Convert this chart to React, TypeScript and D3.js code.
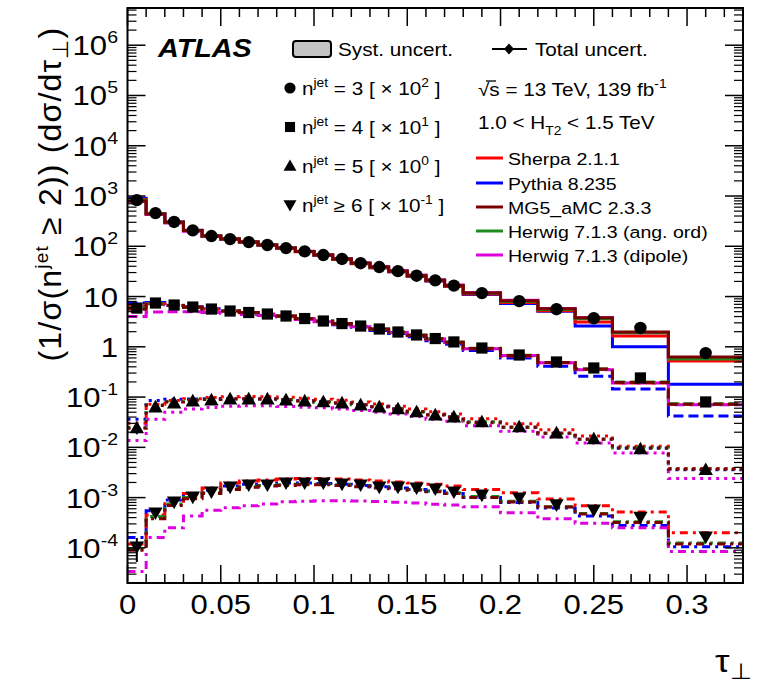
import React from 'react';
import * as d3 from 'd3';

// ---------------- DATA ----------------
const binEdges = [0, 0.01, 0.02, 0.03, 0.04, 0.05, 0.06, 0.07, 0.08, 0.09, 0.1, 0.11, 0.12, 0.13, 0.14, 0.15, 0.16, 0.17, 0.18, 0.2, 0.22, 0.24, 0.26, 0.29, 0.33];

// n_jet = 3 (x 10^2)
const data3 = [828, 457, 305, 207, 160, 139, 121, 106, 92, 79, 67, 56, 46, 38.6, 32, 26, 21, 16.5, 11.7, 8.1, 5.6, 3.7, 2.37, 0.75];
const sherpa3 = [850, 440, 300, 205, 160, 139, 121, 105, 91, 78, 66, 55, 45, 37.5, 31, 25.5, 20.5, 16, 11.2, 7.6, 5.2, 3.1, 1.64, 0.52];
const pythia3 = [900, 450, 305, 208, 161, 140, 122, 106, 92, 79, 66.5, 55.5, 45.5, 37.5, 31, 25.3, 20.3, 15.8, 11.0, 7.3, 5.1, 2.6, 1.0, 0.18];
const mg53 = [800, 440, 300, 205, 160, 139, 121, 106, 92, 79, 67, 56, 46, 38.6, 32, 26, 21, 16.5, 11.8, 8.2, 5.7, 3.8, 1.97, 0.63];
const hwAng3 = [820, 450, 302, 206, 160, 139, 121, 106, 92, 79, 67, 56, 46, 38.4, 31.8, 26, 21, 16.4, 11.6, 8.0, 5.5, 3.6, 1.9, 0.57];
const hwDip3 = [780, 430, 290, 200, 157, 138, 121, 106, 93, 80, 68, 57, 47, 39.5, 32.8, 26.8, 21.6, 17, 12.1, 8.4, 5.8, 3.8, 1.9, 0.6];
const err3 = [0.06, 0.04, 0.03, 0.03, 0.03, 0.03, 0.03, 0.03, 0.03, 0.03, 0.03, 0.03, 0.03, 0.03, 0.03, 0.03, 0.04, 0.04, 0.04, 0.05, 0.06, 0.07, 0.08, 0.12];

// n_jet = 4 (x 10^1)
const data4 = [5.9, 7.43, 6.78, 6.18, 5.64, 5.15, 4.81, 4.49, 4.1, 3.65, 3.26, 2.9, 2.59, 2.26, 1.97, 1.72, 1.46, 1.25, 0.946, 0.687, 0.499, 0.379, 0.24, 0.08];
const sherpa4 = [6.5, 7.2, 6.6, 6.1, 5.6, 5.1, 4.78, 4.45, 4.05, 3.6, 3.2, 2.85, 2.55, 2.22, 1.93, 1.68, 1.42, 1.21, 0.92, 0.66, 0.48, 0.355, 0.19, 0.072];
const pythia4 = [7.4, 7.6, 6.9, 6.3, 5.7, 5.2, 4.8, 4.45, 4.0, 3.55, 3.15, 2.75, 2.45, 2.12, 1.83, 1.58, 1.32, 1.12, 0.84, 0.6, 0.41, 0.26, 0.145, 0.042];
const mg54 = [5.6, 7.0, 6.6, 6.1, 5.6, 5.15, 4.8, 4.5, 4.1, 3.65, 3.25, 2.9, 2.58, 2.25, 1.95, 1.7, 1.44, 1.23, 0.93, 0.67, 0.49, 0.36, 0.195, 0.072];
const hwAng4 = [6.0, 7.2, 6.7, 6.1, 5.6, 5.15, 4.8, 4.5, 4.1, 3.65, 3.27, 2.92, 2.6, 2.27, 1.98, 1.72, 1.46, 1.24, 0.94, 0.68, 0.49, 0.36, 0.2, 0.074];
const hwDip4 = [4.0, 4.9, 5.0, 5.0, 4.8, 4.6, 4.4, 4.2, 3.9, 3.5, 3.15, 2.82, 2.52, 2.2, 1.92, 1.68, 1.43, 1.22, 0.92, 0.67, 0.48, 0.35, 0.19, 0.07];
const err4 = [0.1, 0.05, 0.04, 0.04, 0.04, 0.04, 0.04, 0.04, 0.04, 0.04, 0.04, 0.04, 0.04, 0.04, 0.04, 0.04, 0.05, 0.05, 0.05, 0.06, 0.07, 0.08, 0.1, 0.15];

// n_jet = 5 (x 10^0)
const data5 = [0.0243, 0.0635, 0.0763, 0.0836, 0.0875, 0.0916, 0.0916, 0.0916, 0.0875, 0.0836, 0.08, 0.0763, 0.0696, 0.0635, 0.058, 0.0506, 0.044, 0.04, 0.032, 0.0255, 0.0193, 0.0147, 0.0093, 0.0036];
const sherpa5 = [0.03, 0.072, 0.085, 0.093, 0.098, 0.102, 0.103, 0.102, 0.099, 0.095, 0.091, 0.086, 0.08, 0.073, 0.066, 0.058, 0.051, 0.046, 0.037, 0.0295, 0.0225, 0.0168, 0.0105, 0.0038];
const pythia5 = [0.036, 0.085, 0.09, 0.092, 0.093, 0.094, 0.093, 0.092, 0.089, 0.085, 0.08, 0.076, 0.07, 0.064, 0.058, 0.051, 0.045, 0.04, 0.032, 0.025, 0.019, 0.0145, 0.0096, 0.0036];
const mg55 = [0.024, 0.068, 0.08, 0.086, 0.089, 0.092, 0.092, 0.092, 0.088, 0.084, 0.08, 0.076, 0.07, 0.064, 0.058, 0.051, 0.044, 0.04, 0.031, 0.025, 0.019, 0.0145, 0.0098, 0.0037];
const hwAng5 = [0.025, 0.07, 0.082, 0.087, 0.09, 0.092, 0.092, 0.092, 0.088, 0.084, 0.08, 0.076, 0.07, 0.064, 0.058, 0.051, 0.044, 0.04, 0.032, 0.025, 0.019, 0.0145, 0.0098, 0.0037];
const hwDip5 = [0.0137, 0.036, 0.05, 0.058, 0.062, 0.066, 0.067, 0.067, 0.065, 0.063, 0.061, 0.058, 0.054, 0.05, 0.046, 0.041, 0.036, 0.033, 0.027, 0.021, 0.016, 0.0122, 0.0077, 0.0024];
const err5 = [0.25, 0.08, 0.06, 0.05, 0.05, 0.05, 0.05, 0.05, 0.05, 0.05, 0.05, 0.05, 0.05, 0.05, 0.05, 0.06, 0.06, 0.06, 0.07, 0.08, 0.09, 0.1, 0.12, 0.18];

// n_jet >= 6 (x 10^-1)
const data6 = [1.05e-4, 4.97e-4, 8.2e-4, 1.03e-3, 1.3e-3, 1.63e-3, 1.79e-3, 1.79e-3, 1.96e-3, 1.96e-3, 1.96e-3, 1.87e-3, 1.79e-3, 1.63e-3, 1.63e-3, 1.56e-3, 1.49e-3, 1.3e-3, 1.13e-3, 9.9e-4, 7.2e-4, 5.7e-4, 4.1e-4, 1.65e-4];
const sherpa6 = [1.2e-4, 4.5e-4, 8.5e-4, 1.2e-3, 1.55e-3, 1.95e-3, 2.15e-3, 2.25e-3, 2.35e-3, 2.4e-3, 2.4e-3, 2.35e-3, 2.25e-3, 2.15e-3, 2.05e-3, 1.95e-3, 1.85e-3, 1.7e-3, 1.45e-3, 1.25e-3, 9.4e-4, 6.9e-4, 5.2e-4, 2.0e-4];
const pythia6 = [1.6e-4, 5.5e-4, 9.0e-4, 1.15e-3, 1.4e-3, 1.7e-3, 1.85e-3, 1.9e-3, 1.95e-3, 1.95e-3, 1.9e-3, 1.85e-3, 1.75e-3, 1.65e-3, 1.55e-3, 1.45e-3, 1.35e-3, 1.2e-3, 1.0e-3, 8.0e-4, 6.2e-4, 4.3e-4, 2.8e-4, 1.05e-4];
const mg56 = [9.0e-5, 3.8e-4, 7.0e-4, 9.5e-4, 1.2e-3, 1.45e-3, 1.6e-3, 1.7e-3, 1.75e-3, 1.8e-3, 1.8e-3, 1.75e-3, 1.65e-3, 1.55e-3, 1.5e-3, 1.4e-3, 1.3e-3, 1.2e-3, 1.0e-3, 8.2e-4, 6.5e-4, 4.7e-4, 3.2e-4, 1.2e-4];
const hwAng6 = [9.5e-5, 4.2e-4, 7.5e-4, 1.0e-3, 1.25e-3, 1.5e-3, 1.65e-3, 1.75e-3, 1.8e-3, 1.85e-3, 1.85e-3, 1.8e-3, 1.7e-3, 1.6e-3, 1.55e-3, 1.45e-3, 1.35e-3, 1.25e-3, 1.05e-3, 8.5e-4, 6.6e-4, 4.8e-4, 3.3e-4, 1.25e-4];
const hwDip6 = [3.4e-5, 1.6e-4, 2.5e-4, 4.3e-4, 5.6e-4, 6.3e-4, 6.9e-4, 7.5e-4, 8.3e-4, 8.5e-4, 8.7e-4, 8.7e-4, 8.6e-4, 8.4e-4, 8.1e-4, 7.8e-4, 7.4e-4, 7.1e-4, 6.6e-4, 5.0e-4, 3.8e-4, 3.1e-4, 2.5e-4, 8.5e-5];
const err6 = [0.5, 0.15, 0.1, 0.08, 0.07, 0.07, 0.07, 0.07, 0.07, 0.07, 0.07, 0.07, 0.07, 0.07, 0.07, 0.08, 0.08, 0.08, 0.09, 0.1, 0.11, 0.12, 0.14, 0.22];

const modelNames = ['Sherpa 2.1.1', 'Pythia 8.235', 'MG5_aMC 2.3.3', 'Herwig 7.1.3 (ang. ord)', 'Herwig 7.1.3 (dipole)'];
const modelColors = ['#ff0000', '#0000ff', '#7a0000', '#1f8a1f', '#dd00dd'];
const xTickLabels = ['0', '0.05', '0.1', '0.15', '0.2', '0.25', '0.3'];
const njetLabels = ['3', '4', '5', '6'];
const njetScales = ['2', '1', '0', '-1'];

// ---------------- LAYOUT ----------------
const W = 759;
const H = 687;
const L = 127.5, R = 743, T0 = 8, B = 583;
const FONT = '"Liberation Sans", Arial, Helvetica, sans-serif';
const SX = 1.15;

const x = d3.scaleLinear().domain([0, 0.33]).range([L, R]);
const y = d3.scaleLog().domain([2e-5, 5.5e6]).range([B, T0]);

const groups = [
  { data: data3, err: err3, models: [sherpa3, pythia3, mg53, hwAng3, hwDip3], dash: null, marker: 'circle' },
  { data: data4, err: err4, models: [sherpa4, pythia4, mg54, hwAng4, hwDip4], dash: '10,5', marker: 'square' },
  { data: data5, err: err5, models: [sherpa5, pythia5, mg55, hwAng5, hwDip5], dash: '3,5', marker: 'tri' },
  { data: data6, err: err6, models: [sherpa6, pythia6, mg56, hwAng6, hwDip6], dash: '8,5,3,5', marker: 'itri' },
];
const drawOrder = [1, 0, 4, 3, 2];

function stepPath(vals: number[]) {
  const pts: [number, number][] = binEdges.map((e, i) => [e, vals[Math.min(i, vals.length - 1)]]);
  return d3.line<[number, number]>().x(d => x(d[0])).y(d => y(d[1])).curve(d3.curveStepAfter)(pts) || '';
}

function Marker({ kind, cx, cy, s = 1 }: { kind: string; cx: number; cy: number; s?: number }) {
  if (kind === 'circle') return <circle cx={cx} cy={cy} r={6.2 * s} fill="#000" />;
  if (kind === 'square') return <rect x={cx - 5.6 * s} y={cy - 5.6 * s} width={11.2 * s} height={11.2 * s} fill="#000" />;
  const a = 7.2 * s;
  if (kind === 'tri') {
    return <path d={`M${cx},${cy - a} L${cx + a},${cy + a * 0.75} L${cx - a},${cy + a * 0.75} Z`} fill="#000" />;
  }
  return <path d={`M${cx},${cy + a} L${cx + a},${cy - a * 0.75} L${cx - a},${cy - a * 0.75} Z`} fill="#000" />;
}

function Txt({ x: tx, y: ty, size, anchor = 'start', weight = 'normal', italic = false, children }: any) {
  return (
    <text transform={`translate(${tx},${ty}) scale(${SX},1)`} fontSize={size} textAnchor={anchor}
      fontWeight={weight} fontStyle={italic ? 'italic' : 'normal'} fontFamily={FONT} fill="#000">
      {children}
    </text>
  );
}

export default function App() {
  const centers = binEdges.slice(0, -1).map((e, i) => (e + binEdges[i + 1]) / 2);

  const xMajor = d3.range(0, 0.3001, 0.05);
  const xMinor = d3.range(0, 0.3301, 0.01).filter(v => Math.abs(v / 0.05 - Math.round(v / 0.05)) > 1e-6);
  const yMajorExp = d3.range(-4, 7);
  const yMinor: number[] = [];
  for (let e = -5; e <= 6; e++) for (let k = 2; k <= 9; k++) {
    const v = k * Math.pow(10, e);
    if (v >= 2e-5 && v <= 5.5e6) yMinor.push(v);
  }

  const legendRows = [88, 127, 166, 205];
  const modelRows = [158, 183, 207, 231, 255];

  return (
    <svg width={W} height={H} style={{ position: 'absolute', left: 0, top: 0, background: '#fff' }}>
      <defs>
        <clipPath id="plotclip"><rect x={L} y={T0} width={R - L} height={B - T0} /></clipPath>
      </defs>
      <rect x={0} y={0} width={W} height={H} fill="#fff" />

      {/* MC predictions */}
      <g clipPath="url(#plotclip)">
        {groups.map((g, gi) => (
          <g key={gi}>
            {drawOrder.map(mi => (
              <path key={mi} d={stepPath(g.models[mi])} fill="none" stroke={modelColors[mi]} strokeWidth={3}
                strokeDasharray={g.dash || undefined} />
            ))}
          </g>
        ))}
        {/* data: total uncertainty bars + markers */}
        {groups.map((g, gi) => (
          <g key={'d' + gi}>
            {g.data.map((v, i) => (
              <line key={'e' + i} x1={x(centers[i])} x2={x(centers[i])} y1={y(v * (1 + g.err[i]))}
                y2={y(Math.max(v * (1 - g.err[i]), 1e-6))} stroke="#000" strokeWidth={2} />
            ))}
            {g.data.map((v, i) => <Marker key={i} kind={g.marker} cx={x(centers[i])} cy={y(v)} />)}
          </g>
        ))}
      </g>

      {/* frame */}
      <rect x={L} y={T0} width={R - L} height={B - T0} fill="none" stroke="#000" strokeWidth={2} />

      {/* x ticks */}
      {xMajor.map((v, i) => (
        <g key={'xm' + i}>
          <line x1={x(v)} x2={x(v)} y1={B} y2={B - 18} stroke="#000" strokeWidth={1.5} />
          <line x1={x(v)} x2={x(v)} y1={T0} y2={T0 + 18} stroke="#000" strokeWidth={1.5} />
        </g>
      ))}
      {xMinor.map((v, i) => (
        <g key={'xn' + i}>
          <line x1={x(v)} x2={x(v)} y1={B} y2={B - 9} stroke="#000" strokeWidth={1.5} />
          <line x1={x(v)} x2={x(v)} y1={T0} y2={T0 + 9} stroke="#000" strokeWidth={1.5} />
        </g>
      ))}
      {xMajor.map((v, i) => (
        <Txt key={'xl' + i} x={x(v)} y={614} size={27} anchor="middle">{xTickLabels[i]}</Txt>
      ))}

      {/* y ticks */}
      {yMajorExp.map(e => (
        <g key={'ym' + e}>
          <line x1={L} x2={L + 18} y1={y(Math.pow(10, e))} y2={y(Math.pow(10, e))} stroke="#000" strokeWidth={1.5} />
          <line x1={R} x2={R - 18} y1={y(Math.pow(10, e))} y2={y(Math.pow(10, e))} stroke="#000" strokeWidth={1.5} />
        </g>
      ))}
      {yMinor.map((v, i) => (
        <g key={'yn' + i}>
          <line x1={L} x2={L + 9} y1={y(v)} y2={y(v)} stroke="#000" strokeWidth={1.2} />
          <line x1={R} x2={R - 9} y1={y(v)} y2={y(v)} stroke="#000" strokeWidth={1.2} />
        </g>
      ))}
      {yMajorExp.map(e => {
        const yy = y(Math.pow(10, e));
        if (e === 0) return <Txt key={'yl' + e} x={118} y={yy + 10} size={27} anchor="end">1</Txt>;
        if (e === 1) return <Txt key={'yl' + e} x={118} y={yy + 10} size={27} anchor="end">10</Txt>;
        return (
          <Txt key={'yl' + e} x={118} y={yy + 10} size={27} anchor="end">
            10<tspan dy={-12} fontSize={17}>{String(e)}</tspan>
          </Txt>
        );
      })}

      {/* axis titles */}
      <text transform="translate(61,194) rotate(-90)" fontSize={32} textAnchor="middle" fontFamily={FONT} letterSpacing={1.2}>
        (1/σ(n<tspan dy={-13} fontSize={19}>jet</tspan><tspan dy={13}> ≥ 2)) (dσ/dτ</tspan>
        <tspan dy={7} fontSize={22}>⊥</tspan><tspan dy={-7}>)</tspan>
      </text>
      <Txt x={752} y={672} size={32} anchor="end">
        τ<tspan dy={7} fontSize={22}>⊥</tspan>
      </Txt>

      {/* ATLAS label */}
      <Txt x={158} y={57} size={25} weight="bold" italic>ATLAS</Txt>

      {/* Syst / Total legend */}
      <rect x={293} y={41} width={38} height={16} rx={3} fill="#c4c4c4" stroke="#000" strokeWidth={2} />
      <Txt x={338} y={56} size={18}>Syst. uncert.</Txt>
      <line x1={492} x2={527} y1={49} y2={49} stroke="#000" strokeWidth={2} />
      <path d="M509,43.5 L514,49 L509,54.5 L504,49 Z" fill="#000" />
      <Txt x={535} y={56} size={18}>Total uncert.</Txt>

      {/* n-jet legend */}
      {legendRows.map((ly, i) => (
        <g key={'nl' + i}>
          <Marker kind={groups[i].marker} cx={290} cy={ly} s={0.9} />
          <Txt x={302} y={ly + 7} size={18}>
            n<tspan dy={-8} fontSize={12}>jet</tspan>
            <tspan dy={8}>{i === 3 ? ' ≥ ' : ' = '}{njetLabels[i]} [ × 10</tspan>
            <tspan dy={-8} fontSize={12}>{njetScales[i]}</tspan>
            <tspan dy={8}> ]</tspan>
          </Txt>
        </g>
      ))}

      {/* energy / selection text */}
      <Txt x={478} y={96} size={18}>
        √s = 13 TeV, 139 fb<tspan dy={-8} fontSize={12}>-1</tspan>
      </Txt>
      <line x1={486} x2={496} y1={81} y2={81} stroke="#000" strokeWidth={1.3} />
      <Txt x={478} y={129} size={18}>
        1.0 &lt; H<tspan dy={6} fontSize={12}>T2</tspan><tspan dy={-6}> &lt; 1.5 TeV</tspan>
      </Txt>

      {/* model legend */}
      {modelRows.map((ly, i) => (
        <g key={'ml' + i}>
          <line x1={476} x2={503} y1={ly} y2={ly} stroke={modelColors[i]} strokeWidth={3} />
          <Txt x={508} y={ly + 6.5} size={17}>{modelNames[i]}</Txt>
        </g>
      ))}
    </svg>
  );
}
